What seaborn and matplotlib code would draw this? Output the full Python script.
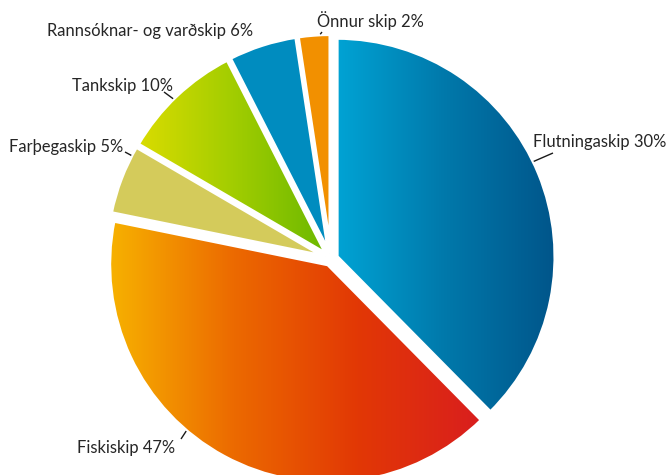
import numpy as np
import matplotlib
matplotlib.use('Agg')
import matplotlib.pyplot as plt
from matplotlib.colors import LinearSegmentedColormap
import seaborn as sns

# slice shares (clockwise from 12 o'clock)
categories = ['Flutningaskip', 'Fiskiskip', 'Farþegaskip', 'Tankskip',
              'Rannsóknar- og varðskip', 'Önnur skip']
shares = [37.6, 40.6, 5.2, 9.1, 5.1, 2.4]
label_pct = [30, 47, 5, 10, 6, 2]

# styling: gradient stops (None = flat colour)
gradients = [['#00A3D4', '#0078AA', '#00558A'],
             ['#F7B200', '#EC6A00', '#E23805', '#D91E1E'],
             None,
             ['#DADC00', '#A2CD00', '#6BB800'],
             None,
             None]
flat_colors = ['#0080B4', '#E5400A', '#D4CB5B', '#9CCB00', '#008CBF', '#F29000']

W, H = 667, 475
sns.set_theme(style='white')
plt.rcParams['font.family'] = ['Lato', 'DejaVu Sans']

fig = plt.figure(figsize=(W / 100, H / 100), dpi=100)
ax = fig.add_axes([0, 0, 1, 1])

R = 219
center = (331, H - 259)
wedges, _ = ax.pie(shares, startangle=90, counterclock=False, radius=R,
                   center=center, explode=[6] * len(shares),
                   colors=flat_colors,
                   wedgeprops=dict(edgecolor='white', linewidth=3))

# horizontal gradient fills, clipped to each wedge
for wedge, stops in zip(wedges, gradients):
    if stops is None:
        continue
    ext = wedge.get_path().get_extents()
    cmap = LinearSegmentedColormap.from_list('g', stops)
    grad = np.linspace(0, 1, 256).reshape(1, -1)
    im = ax.imshow(grad, cmap=cmap, extent=(ext.x0, ext.x1, ext.y0, ext.y1),
                   aspect='auto', origin='lower', interpolation='bicubic', zorder=0.5)
    im.set_clip_path(wedge)
    wedge.set_facecolor('none')

# labels: (text x, text baseline y, leader angle on arc, leader outer end) in pixels
label_layout = [
    (533, 147, 25.8, (553, 153)),
    (77, 453, 229.6, (181, 439)),
    (9, 152, 152.4, (125, 152)),
    (72, 91, 134.6, (164, 92)),
    (47, 36, None, None),
    (317, 27, 92.7, (322, 32)),
]
for wedge, name, pct, (tx, ty, ang, outer) in zip(wedges, categories, label_pct, label_layout):
    ax.text(tx, H - ty, f'{name} {pct}%', fontsize=11.9, color='#262626',
            ha='left', va='baseline')
    if ang is not None:
        cx, cy = wedge.center
        a = np.deg2rad(ang)
        ax.plot([cx + wedge.r * np.cos(a), outer[0]],
                [cy + wedge.r * np.sin(a), H - outer[1]],
                color='#1a1a1a', lw=1, solid_capstyle='butt', zorder=3)

ax.set_xlim(0, W)
ax.set_ylim(0, H)
ax.set_aspect('equal')
ax.axis('off')

fig.savefig('out.png', dpi=100, facecolor='white')
